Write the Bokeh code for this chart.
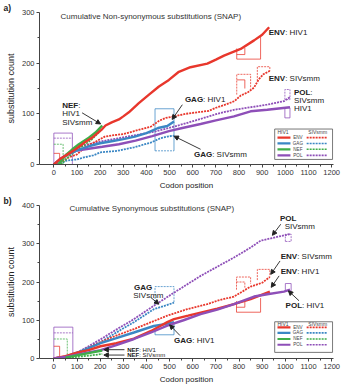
from bokeh.plotting import figure
from bokeh.models import Range1d, FixedTicker, Label, Arrow, NormalHead
from bokeh.layouts import column
from bokeh.embed import file_html
from bokeh.resources import INLINE

FONT = "Liberation Sans"
RED = "#e8372c"; BLUE = "#3b87c4"; GREEN = "#3fae49"; PURPLE = "#8e4fb8"
INK = "#222222"

# ---------------- data : panel a (non-synonymous) ----------------
a_env_hiv_x = [0, 30, 60, 94, 137, 166, 209, 223, 250, 281, 300, 324, 367, 411, 454, 497, 540, 590, 663, 700, 735, 807, 865, 900, 930]
a_env_hiv_y = [0, 12, 20, 30, 45, 53, 70, 77, 83, 89, 95, 103, 121, 138, 154, 167, 183, 192, 199, 207, 215, 228, 245, 256, 271]
a_env_siv_x = [0, 30, 65, 100, 137, 180, 220, 260, 300, 340, 380, 420, 454, 483, 520, 569, 620, 670, 700, 740, 780, 807, 840, 865, 885, 905, 933]
a_env_siv_y = [0, 5, 14, 20, 35, 45, 55, 58, 60, 65, 70, 75, 86, 92, 95, 100, 103, 106, 112, 118, 125, 136, 143, 152, 168, 178, 185]
a_gag_hiv_x = [0, 30, 60, 100, 150, 200, 250, 300, 350, 400, 430, 450, 490, 519]
a_gag_hiv_y = [0, 10, 20, 28, 36, 42, 46, 50, 55, 62, 68, 72, 76, 85]
a_gag_siv_x = [0, 30, 58, 100, 130, 170, 202, 274, 346, 418, 461, 490, 519]
a_gag_siv_y = [0, 3, 8, 10, 14, 18, 24, 27, 34, 43, 52, 55, 57]
a_nef_hiv_x = [20, 50, 80, 108, 151, 180, 209]
a_nef_hiv_y = [0, 18, 30, 40, 53, 63, 77]
a_nef_siv_x = [30, 60, 90, 120, 160, 200]
a_nef_siv_y = [0, 14, 25, 35, 48, 66]
a_pol_hiv_x = [0, 30, 60, 94, 150, 209, 281, 353, 425, 497, 555, 634, 700, 778, 850, 922, 1020]
a_pol_hiv_y = [0, 12, 20, 27, 31, 35, 40, 47, 56, 66, 72, 80, 87, 95, 105, 108, 113]
a_pol_siv_x = [0, 30, 60, 94, 150, 209, 281, 353, 425, 497, 560, 634, 706, 778, 850, 920, 994, 1020]
a_pol_siv_y = [0, 12, 22, 32, 40, 46, 52, 58, 64, 72, 80, 90, 100, 108, 113, 118, 125, 133]

# region markers (gene-region brackets) : panel a
a_mark_xs = [[0, 0, 80, 80], [0, 80], [0, 40, 40], [0, 25, 25],
             [437, 437, 519, 519], [437, 519],
             [790, 790, 893, 893], [790, 825, 825],
             [790, 790, 850, 850], [790, 825, 825], [879, 879, 933, 933],
             [998, 998, 1020, 1020, 998], [998, 998, 1020, 1020, 998]]
a_mark_ys = [[0, 62, 62, 0], [52, 52], [40, 40, 0], [22, 22, 0],
             [27, 110, 110, 27], [27, 27],
             [229, 208, 208, 254], [217, 217, 230],
             [138, 178, 178, 150], [167, 167, 150], [165, 193, 193, 185],
             [128, 148, 148, 128, 128], [92, 112, 112, 92, 92]]
a_mark_col = [PURPLE, PURPLE, GREEN, RED, BLUE, BLUE, RED, RED, RED, RED, RED, PURPLE, PURPLE]
a_mark_dash = ["solid", "2 1", "2 1", "solid", "solid", "2 1", "solid", "solid", "2 1", "solid", "2 1", "2 1", "solid"]

# ---------------- data : panel b (synonymous) ----------------
b_env_hiv_x = [0, 50, 100, 150, 202, 270, 346, 420, 490, 519, 580, 634, 706, 778, 850, 933]
b_env_hiv_y = [0, 6, 15, 22, 32, 40, 52, 72, 95, 103, 112, 120, 130, 142, 155, 175]
b_env_siv_x = [0, 50, 100, 150, 202, 270, 346, 420, 490, 576, 663, 706, 778, 850, 900, 933]
b_env_siv_y = [0, 5, 15, 28, 43, 60, 77, 95, 112, 129, 142, 151, 162, 188, 198, 213]
b_gag_hiv_x = [0, 50, 100, 150, 202, 270, 346, 432, 480, 519]
b_gag_hiv_y = [0, 5, 15, 27, 40, 53, 68, 85, 90, 95]
b_gag_siv_x = [0, 50, 100, 150, 202, 270, 346, 432, 480, 519]
b_gag_siv_y = [0, 5, 15, 28, 43, 68, 95, 129, 138, 146]
b_nef_hiv_x = [50, 100, 150, 209]
b_nef_hiv_y = [2, 8, 14, 21]
b_nef_siv_x = [65, 110, 160, 209]
b_nef_siv_y = [2, 5, 8, 12]
b_pol_hiv_x = [0, 50, 100, 150, 202, 270, 346, 420, 490, 560, 634, 706, 778, 865, 922, 994, 1020]
b_pol_hiv_y = [0, 4, 10, 16, 22, 35, 51, 68, 86, 100, 116, 128, 142, 162, 168, 175, 180]
b_pol_siv_x = [0, 50, 108, 150, 202, 260, 346, 432, 519, 634, 778, 850, 893, 937, 994, 1020]
b_pol_siv_y = [0, 5, 18, 32, 50, 72, 103, 138, 172, 216, 264, 290, 308, 314, 322, 325]

b_mark_xs = [[0, 0, 82, 82], [0, 82], [0, 58, 58], [0, 25, 25],
             [437, 437, 519, 519], [437, 437, 519, 519],
             [789, 789, 893, 893], [789, 825, 825],
             [789, 789, 850, 850], [789, 825, 825], [879, 879, 933, 933],
             [1000, 1000, 1025, 1025, 1000], [1000, 1000, 1025, 1025, 1000]]
b_mark_ys = [[0, 82, 82, 0], [67, 67], [51, 51, 0], [32, 32, 0],
             [80, 62, 62, 95], [140, 188, 188, 146],
             [150, 121, 121, 158], [134, 134, 148],
             [180, 213, 213, 195], [200, 200, 185], [205, 233, 233, 214],
             [306, 325, 325, 306, 306], [177, 196, 196, 177, 177]]
b_mark_col = [PURPLE, PURPLE, GREEN, RED, BLUE, BLUE, RED, RED, RED, RED, RED, PURPLE, PURPLE]
b_mark_dash = ["solid", "2 1", "2 1", "solid", "solid", "2 1", "solid", "solid", "2 1", "2 1", "2 1", "2 1", "solid"]

x_ticks = [0, 100, 200, 300, 400, 500, 600, 700, 800, 900, 1000, 1100, 1200]
genes = ["ENV", "GAG", "NEF", "POL"]
gene_cols = [RED, BLUE, GREEN, PURPLE]

BOLDW = {"E": .667, "N": .722, "V": .667, "G": .778, "A": .722, "P": .667, "O": .778, "L": .611, "F": .611}


def make_fig(ymax, height, top, ylabel_ticks, tag):
    p = figure(width=343, height=height, x_range=Range1d(-62, 1208), y_range=Range1d(0, ymax),
               output_backend="svg", toolbar_location=None, title=tag,
               min_border_left=39, min_border_right=10, min_border_top=top, min_border_bottom=29)
    p.title.text_font = FONT
    p.title.text_font_size = "8.5px"
    p.title.text_font_style = "bold"
    p.title.text_color = INK
    p.title.align = "left"
    p.title.offset = -36
    p.title.standoff = 0
    p.outline_line_color = None
    p.xgrid.visible = False
    p.ygrid.visible = False
    p.xaxis.ticker = FixedTicker(ticks=x_ticks, minor_ticks=[t + 50 for t in x_ticks[:-1]])
    p.yaxis.ticker = FixedTicker(ticks=ylabel_ticks, minor_ticks=[t + 50 for t in ylabel_ticks[:-1]])
    for ax in (p.xaxis[0], p.yaxis[0]):
        ax.axis_line_color = "#444"
        ax.major_tick_line_color = "#444"
        ax.minor_tick_line_color = "#444"
        ax.major_tick_in = 0
        ax.major_tick_out = 3
        ax.minor_tick_in = 0
        ax.minor_tick_out = 2
        ax.major_label_text_font = FONT
        ax.major_label_text_font_size = "7.5px"
        ax.major_label_text_color = "#333"
        ax.major_label_standoff = 2
        ax.axis_label_text_font = FONT
        ax.axis_label_text_font_style = "normal"
        ax.axis_label_text_color = "#222"
        ax.axis_label_standoff = 3
    p.xaxis.axis_label = "Codon position"
    p.xaxis.axis_label_text_font_size = "8px"
    p.yaxis.axis_label = "substitution count"
    p.yaxis.axis_label_text_font_size = "9px"
    return p


def draw_series(p, series):
    for xs, ys, col, dash in series:
        if dash == "solid":
            p.line(xs, ys, line_color=col, line_width=2.4)
        else:
            p.line(xs, ys, line_color=col, line_width=1.8, line_dash="2 1")


def draw_marks(p, xs, ys, cols, dashes):
    for mx, my, c, d in zip(xs, ys, cols, dashes):
        p.line(mx, my, line_color=c, line_width=0.9, line_dash=d, line_alpha=0.85)


def txt(p, x, y, t, size=8, bold=False, xo=0, color=INK, align="left"):
    p.add_layout(Label(x=x, y=y, x_offset=xo, text=t, text_font=FONT, text_font_size=f"{size}px",
                       text_font_style="bold" if bold else "normal", text_color=color,
                       text_baseline="middle", text_align=align))


def rich(p, x, y, bold, rest, size=8):
    txt(p, x, y, bold, size=size, bold=True)
    if rest:
        w = sum(BOLDW.get(ch, .6) for ch in bold) * size
        txt(p, x, y, rest, size=size, xo=w)


def arrow(p, x0, y0, x1, y1):
    p.add_layout(Arrow(x_start=x0, y_start=y0, x_end=x1, y_end=y1, line_width=0.9, line_color=INK,
                       end=NormalHead(size=4.5, fill_color=INK, line_color=INK)))


def legend(p, x0, x1, y0, y1, hy, rows):
    p.quad(left=[x0], right=[x1], bottom=[y0], top=[y1], fill_color="white", line_color="#555", line_width=0.8)
    txt(p, 990, hy, "HIV1", size=5, align="center", color="#444")
    txt(p, 1140, hy, "SIVsmm", size=5, align="center", color="#444")
    for g, c, ry in zip(genes, gene_cols, rows):
        p.line([966, 1022], [ry, ry], line_color=c, line_width=2.2)
        txt(p, 1054, ry, g, size=4.6, align="center", color="#444")
        p.line([1092, 1182], [ry, ry], line_color=c, line_width=1.6, line_dash="2 1")


# ---------------- panel a ----------------
pa = make_fig(300, 193, 10, [0, 100, 200, 300], "a)")
draw_marks(pa, a_mark_xs, a_mark_ys, a_mark_col, a_mark_dash)
draw_series(pa, [
    (a_gag_siv_x, a_gag_siv_y, BLUE, "dot"), (a_pol_siv_x, a_pol_siv_y, PURPLE, "dot"),
    (a_env_siv_x, a_env_siv_y, RED, "dot"), (a_nef_siv_x, a_nef_siv_y, GREEN, "dot"),
    (a_pol_hiv_x, a_pol_hiv_y, PURPLE, "solid"), (a_gag_hiv_x, a_gag_hiv_y, BLUE, "solid"),
    (a_nef_hiv_x, a_nef_hiv_y, GREEN, "solid"), (a_env_hiv_x, a_env_hiv_y, RED, "solid"),
])
legend(pa, 954, 1204, 10, 70, 64, [53, 41.5, 30, 18])
txt(pa, 29, 292, "Cumulative Non-synonymous   substitutions (SNAP)", size=8, color="#333")
rich(pa, 928, 261, "ENV", ": HIV1")
rich(pa, 928, 170, "ENV", ": SIVsmm")
rich(pa, 1037, 143, "POL", ":")
txt(pa, 1037, 126, "SIVsmm")
txt(pa, 1037, 110, "HIV1")
rich(pa, 566, 129, "GAG", ": HIV1")
rich(pa, 605, 19, "GAG", ": SIVsmm")
rich(pa, 36, 117, "NEF", ":")
txt(pa, 36, 100, "HIV1")
txt(pa, 36, 83, "SIVsmm")
arrow(pa, 122, 102, 202, 80)
arrow(pa, 555, 118, 511, 89)
arrow(pa, 634, 30, 519, 56)

# ---------------- panel b ----------------
pb = make_fig(400, 194, 11, [0, 100, 200, 300, 400], "b)")
draw_marks(pb, b_mark_xs, b_mark_ys, b_mark_col, b_mark_dash)
draw_series(pb, [
    (b_gag_siv_x, b_gag_siv_y, BLUE, "dot"), (b_pol_siv_x, b_pol_siv_y, PURPLE, "dot"),
    (b_env_siv_x, b_env_siv_y, RED, "dot"), (b_nef_siv_x, b_nef_siv_y, GREEN, "dot"),
    (b_gag_hiv_x, b_gag_hiv_y, BLUE, "solid"), (b_env_hiv_x, b_env_hiv_y, RED, "solid"),
    (b_pol_hiv_x, b_pol_hiv_y, PURPLE, "solid"), (b_nef_hiv_x, b_nef_hiv_y, GREEN, "solid"),
])
legend(pb, 954, 1204, 16, 96, 90, [81.5, 67, 51, 36])
txt(pb, 68, 391, "Cumulative Synonymous   substitutions (SNAP)", size=8, color="#333")
txt(pb, 977, 366, "POL", bold=True)
txt(pb, 997, 345, "SIVsmm")
arrow(pb, 980, 351, 944, 322)
rich(pb, 980, 266, "ENV", ": SIVsmm")
arrow(pb, 977, 255, 937, 220)
rich(pb, 980, 227, "ENV", ": HIV1")
arrow(pb, 973, 216, 939, 186)
rich(pb, 1001, 138, "POL", ": HIV1")
arrow(pb, 1059, 151, 1013, 177)
txt(pb, 346, 186, "GAG", bold=True)
txt(pb, 343, 166, "SIVsmm")
arrow(pb, 418, 160, 454, 142)
rich(pb, 519, 47, "GAG", ": HIV1")
arrow(pb, 545, 60, 500, 88)
rich(pb, 317, 23, "NEF", ": HIV1", size=6)
rich(pb, 317, 8, "NEF", ": SIVsmm", size=6)
arrow(pb, 305, 23, 216, 23)
arrow(pb, 305, 9, 216, 9)

layout = column(pa, pb, spacing=0)
open("out.html", "w").write(file_html(layout, INLINE))
